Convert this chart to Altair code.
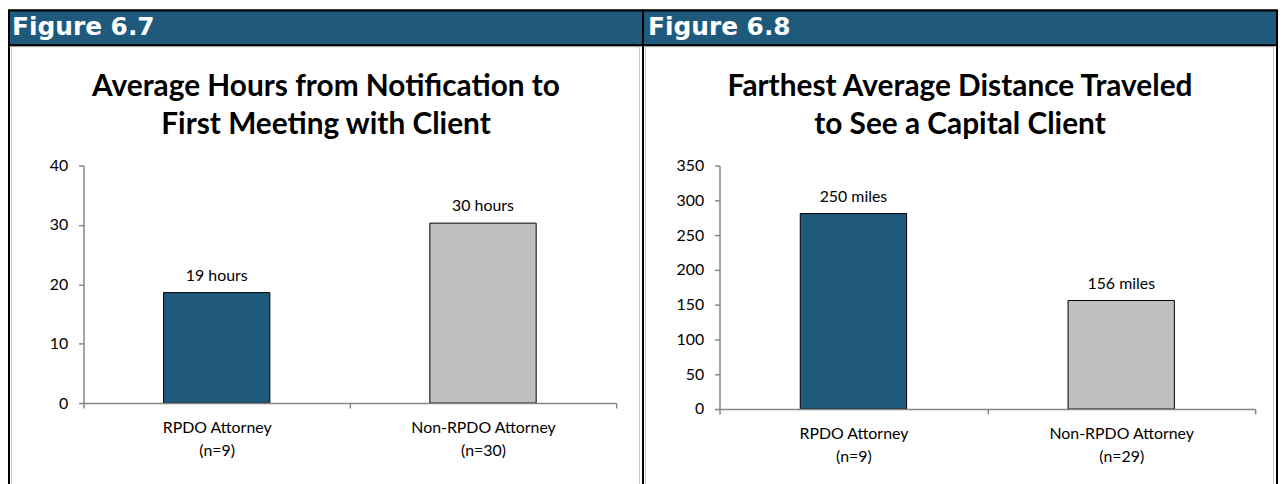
import altair as alt
import pandas as pd

# ---- data ----
fig_names = ["Figure 6.7", "Figure 6.8"]
title_67 = ["Average Hours from Notification to", "First Meeting with Client"]
title_68 = ["Farthest Average Distance Traveled", "to See a Capital Client"]
groups = ["RPDO Attorney", "Non-RPDO Attorney"]
n_67 = ["(n=9)", "(n=30)"]
n_68 = ["(n=9)", "(n=29)"]
hours = [18.6, 30.3]
hour_labels = ["19 hours", "30 hours"]
miles = [281, 156]
mile_labels = ["250 miles", "156 miles"]
ticks_67 = [0, 10, 20, 30, 40]
ticks_68 = [0, 50, 100, 150, 200, 250, 300, 350]

BLUE = "#1F5A7D"
GREY = "#BFBFBF"
AXIS = "#868686"
FONT = "Lato"


def one():
    return alt.Data(values=[{"k": 1}])


def panel(fig, title_lines, ns, values, labels, ticks, w, h, left, right):
    cats = [g + "\n" + n for g, n in zip(groups, ns)]
    df = pd.DataFrame({"cat": cats, "value": values, "label": labels, "grp": groups})
    x = alt.X("cat:N", sort=cats,
              scale=alt.Scale(paddingInner=0, paddingOuter=0),
              axis=alt.Axis(title=None, labelAngle=0, tickBand="extent", zindex=1,
                            labelExpr="split(datum.label, '\\n')",
                            labelFont=FONT, labelFontSize=16, labelColor="black",
                            labelLineHeight=23, labelPadding=12,
                            domainColor=AXIS, domainWidth=1.5,
                            tickColor=AXIS, tickWidth=1.5, tickSize=5))
    y = alt.Y("value:Q",
              scale=alt.Scale(domain=[ticks[0], ticks[-1]], nice=False),
              axis=alt.Axis(title=None, values=ticks, grid=False, zindex=1,
                            labelFont=FONT, labelFontSize=16, labelColor="black",
                            labelPadding=11,
                            domainColor=AXIS, domainWidth=1.5,
                            tickColor=AXIS, tickWidth=1.5, tickSize=5))
    base = alt.Chart(df)
    bars = base.mark_bar(size=107, stroke="black", strokeWidth=1).encode(
        x=x, y=y,
        color=alt.Color("grp:N", scale=alt.Scale(domain=groups, range=[BLUE, GREY]), legend=None),
    )
    vals = base.mark_text(dy=-12, baseline="alphabetic", font=FONT, fontSize=16, color="black").encode(
        x=x, y=y, text="label:N"
    )

    top, hb, bottom = -156, -121, 330
    frame = alt.Chart(one()).mark_rect(fill="white", stroke="black", strokeWidth=2).encode(
        x=alt.value(left), x2=alt.value(right), y=alt.value(top), y2=alt.value(bottom))
    inner = alt.Chart(one()).mark_rect(fill=None, stroke="#C8C8C8", strokeWidth=1).encode(
        x=alt.value(left + 2.5), x2=alt.value(right - 3.5), y=alt.value(hb + 1.5), y2=alt.value(bottom))
    header = alt.Chart(one()).mark_rect(fill=BLUE, stroke="black", strokeWidth=2).encode(
        x=alt.value(left), x2=alt.value(right), y=alt.value(top), y2=alt.value(hb))
    head_txt = alt.Chart(one()).mark_text(
        text=fig, align="left", baseline="middle", font="DejaVu Sans", fontWeight="bold",
        fontSize=25, color="white").encode(x=alt.value(-72), y=alt.value(-139))
    ttl = alt.Chart(one()).mark_text(
        text=title_lines, align="center", baseline="alphabetic", font=FONT, fontWeight="bold",
        fontSize=30, lineHeight=38, color="black").encode(
        x=alt.value((left + right) / 2), y=alt.value(-70))
    return alt.layer(frame, inner, header, head_txt, ttl, bars, vals).properties(width=w, height=h)


p1 = panel(fig_names[0], title_67, n_67, hours, hour_labels, ticks_67, 536, 239, -75, 563)
p2 = panel(fig_names[1], title_68, n_68, miles, mile_labels, ticks_68, 539, 245, -77, 561)

chart = alt.hconcat(p1, p2, spacing=104, bounds="flush").properties(
    padding=0, background="white"
).configure_view(stroke=None)

chart.save("out.html", embed_options={"renderer": "svg", "actions": False})
